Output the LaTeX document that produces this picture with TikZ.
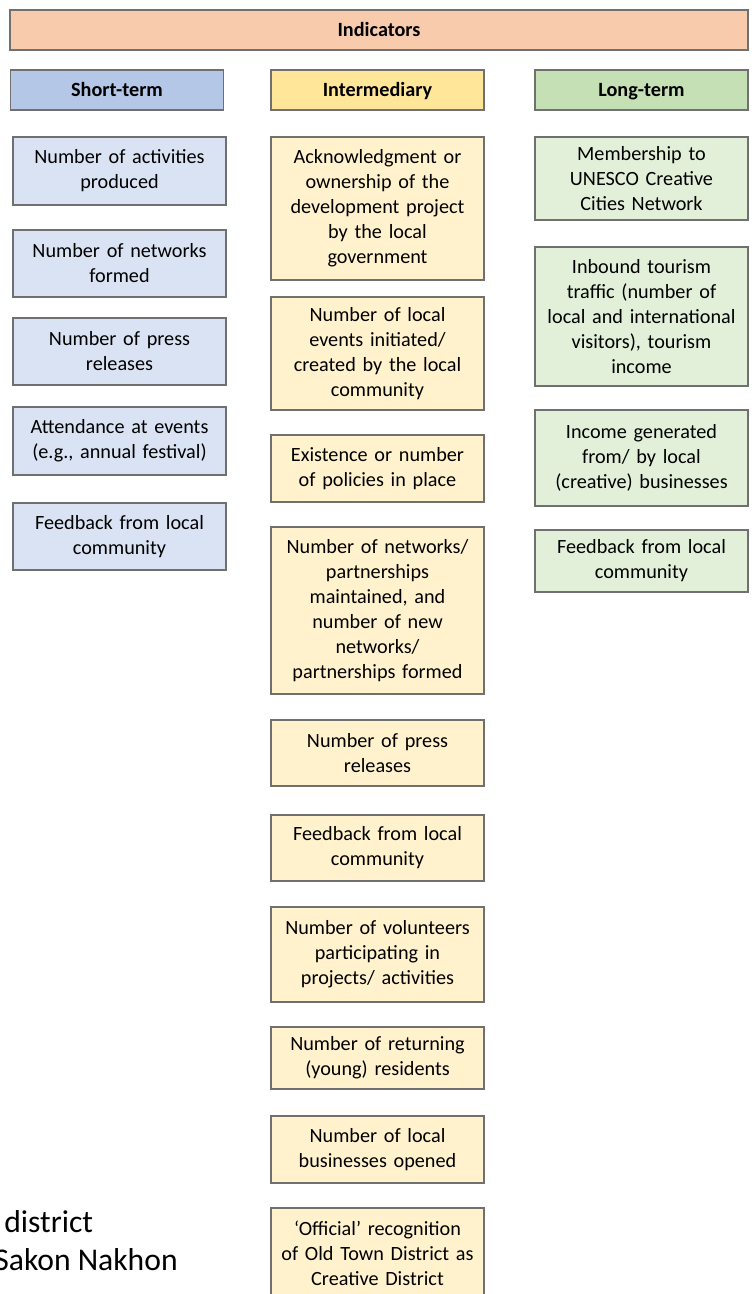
\documentclass[tikz,border=0pt]{standalone}
\usepackage{fontspec}
\setmainfont{Carlito}
\usepackage{tikz}

\definecolor{edgegray}{HTML}{707070}
\definecolor{peach}{HTML}{F8CBAD}
\definecolor{bluehead}{HTML}{B4C7E7}
\definecolor{bluebox}{HTML}{DAE3F3}
\definecolor{yellowhead}{HTML}{FFE699}
\definecolor{yellowbox}{HTML}{FFF2CC}
\definecolor{greenhead}{HTML}{C5E0B4}
\definecolor{greenbox}{HTML}{E2F0D9}

\tikzstyle{heading} = [rectangle, draw=edgegray, line width=0.6pt, minimum width=4.26cm, minimum height=0.8cm, text height=8pt, text depth=0.5pt, text centered, font=\fontsize{11.5}{14}\selectfont\bfseries]
\tikzstyle{indicator} = [rectangle, draw=edgegray, line width=0.6pt, minimum width=4.26cm, text width=4.2cm, inner sep=0pt, text centered, font=\fontsize{11.5}{14.2}\selectfont]
\tikzstyle{shortbox} = [indicator, fill=bluebox]
\tikzstyle{midbox} = [indicator, fill=yellowbox]
\tikzstyle{longbox} = [indicator, fill=greenbox]
\tikzstyle{leftover} = [anchor=west, inner sep=0pt, font=\fontsize{18}{21}\selectfont]

\begin{document}
\begin{tikzpicture}
    \useasboundingbox (0,0) rectangle (15.1,-25.88);

    % headings
    \node [heading, fill=peach, minimum width=14.76cm] at (7.58,-0.6) (indicators) {Indicators};
    \node [heading, fill=bluehead] at (2.34,-1.8) (shortterm) {Short-term};
    \node [heading, fill=yellowhead] at (7.55,-1.8) (intermediary) {Intermediary};
    \node [heading, fill=greenhead] at (12.83,-1.8) (longterm) {Long-term};

    % short-term
    \node [shortbox, minimum height=1.36cm] at (2.39,-3.42) (short1) {Number of activities\\ produced};
    \node [shortbox, minimum height=1.34cm] at (2.39,-5.27) (short2) {Number of networks\\ formed};
    \node [shortbox, minimum height=1.34cm] at (2.39,-7.03) (short3) {Number of press\\ releases};
    \node [shortbox, minimum height=1.36cm] at (2.39,-8.82) (short4) {Attendance at events\\ (e.g., annual festival)};
    \node [shortbox, minimum height=1.34cm] at (2.39,-10.73) (short5) {Feedback from local\\ community};

    % intermediary
    \node [midbox, minimum height=2.86cm] at (7.55,-4.17) (mid1) {Acknowledgment or\\ ownership of the\\ development project\\ by the local\\ government};
    \node [midbox, minimum height=2.26cm] at (7.55,-7.07) (mid2) {Number of local\\ events initiated/\\ created by the local\\ community};
    \node [midbox, minimum height=1.34cm] at (7.55,-9.37) (mid3) {Existence or number\\ of policies in place};
    \node [midbox, minimum height=3.34cm] at (7.55,-12.21) (mid4) {Number of networks/\\ partnerships\\ maintained, and\\ number of new\\ networks/\\ partnerships formed};
    \node [midbox, minimum height=1.32cm] at (7.55,-15.06) (mid5) {Number of press\\ releases};
    \node [midbox, minimum height=1.32cm] at (7.55,-16.96) (mid6) {Feedback from local\\ community};
    \node [midbox, minimum height=1.90cm] at (7.55,-19.09) (mid7) {Number of volunteers\\ participating in\\ projects/ activities};
    \node [midbox, minimum height=1.24cm] at (7.55,-21.16) (mid8) {Number of returning\\ (young) residents};
    \node [midbox, minimum height=1.34cm] at (7.55,-22.99) (mid9) {Number of local\\ businesses opened};
    \node [midbox, minimum height=1.80cm] at (7.55,-25.06) (mid10) {`Official' recognition\\ of Old Town District as\\ Creative District};

    % long-term
    \node [longbox, minimum height=1.66cm] at (12.83,-3.57) (long1) {Membership to\\ UNESCO Creative\\ Cities Network};
    \node [longbox, minimum height=2.78cm] at (12.83,-6.33) (long2) {Inbound tourism\\ traffic (number of\\ local and international\\ visitors), tourism\\ income};
    \node [longbox, minimum height=1.92cm] at (12.83,-9.16) (long3) {Income generated\\ from/ by local\\ (creative) businesses};
    \node [longbox, minimum height=1.24cm] at (12.83,-11.22) (long4) {Feedback from local\\ community};

    % text behind
    \node [leftover] at (0.08,-24.44) (district) {district};
    \node [leftover] at (-0.12,-25.2) (sakon) {Sakon Nakhon};
\end{tikzpicture}
\end{document}
